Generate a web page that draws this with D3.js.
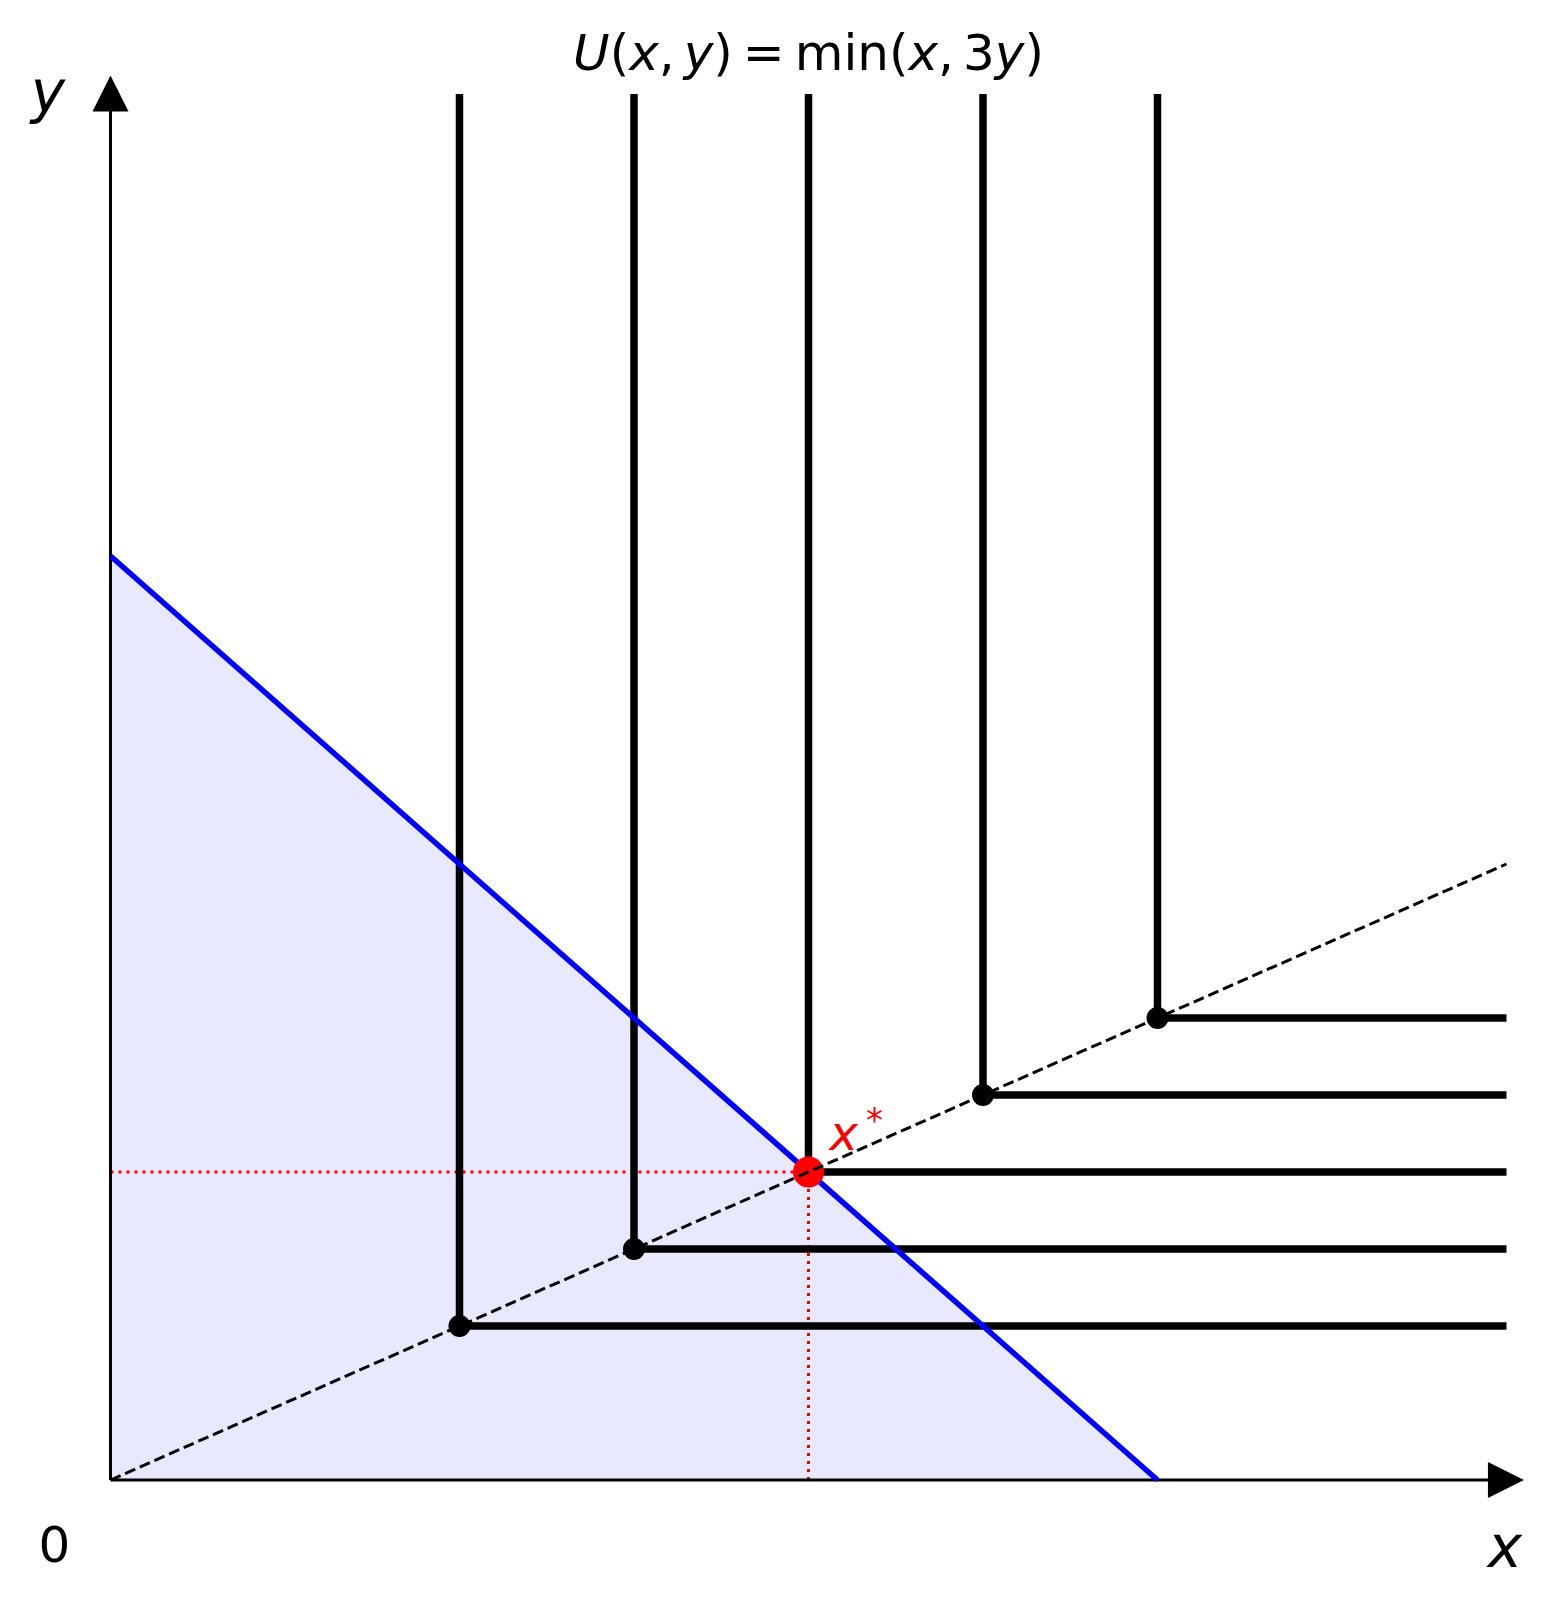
<!DOCTYPE html>
<html>
<head>
<meta charset="utf-8">
<script src="https://cdn.jsdelivr.net/npm/d3@7"></script>
<style>
  body { margin: 0; background: #fff; }
  text { font-family: "DejaVu Sans", sans-serif; }
</style>
</head>
<body>
<div id="chart-area"></div>
<script>
// indifference curve kinks, on the ray y = x/3
var kinkX = [2, 3, 4, 5, 6];
var kinkY = [2/3, 1, 4/3, 5/3, 2];
// where the L-shaped curves stop
var curveXEnd = 8;
var curveYEnd = 6;
// budget line x + 1.5y = 6
var budgetX = [0, 6];
var budgetY = [4, 0];
// ray through kinks
var rayX = [0, 8];
var rayY = [0, 8/3];
// optimum
var optX = 4;
var optY = 4/3;
// axis arrow ends
var axisXEnd = 8.1;
var axisYEnd = 6.08;

var width = 1554;
var height = 1609;

var svg = d3.select("#chart-area").append("svg")
    .attr("width", width)
    .attr("height", height);

svg.append("rect").attr("width", width).attr("height", height).attr("fill", "white");

var x = d3.scaleLinear().domain([0, 8]).range([110.5, 110.5 + 8 * 174.5]);
var y = d3.scaleLinear().domain([0, 6]).range([1480, 1480 - 6 * 231]);

var line = d3.line().x(d => x(d[0])).y(d => y(d[1]));

// budget set fill
var budgetPts = budgetX.map((d, i) => [d, budgetY[i]]);
svg.append("path")
    .attr("d", line([[0, 0]].concat(budgetPts)) + "Z")
    .attr("fill", "rgb(232,232,255)");

// red dotted guides
svg.append("path")
    .attr("d", line([[0, optY], [optX, optY]]))
    .attr("stroke", "red").attr("stroke-width", 3)
    .attr("stroke-dasharray", "3,5").attr("fill", "none");
svg.append("path")
    .attr("d", line([[optX, 0], [optX, optY]]))
    .attr("stroke", "red").attr("stroke-width", 3)
    .attr("stroke-dasharray", "3,5").attr("fill", "none");

// axes
svg.append("line")
    .attr("x1", x(0)).attr("y1", y(0)).attr("x2", x(axisXEnd) - 30).attr("y2", y(0))
    .attr("stroke", "black").attr("stroke-width", 3);
svg.append("line")
    .attr("x1", x(0)).attr("y1", y(0)).attr("x2", x(0)).attr("y2", y(axisYEnd) + 30)
    .attr("stroke", "black").attr("stroke-width", 3);
svg.append("path")
    .attr("d", "M" + x(axisXEnd) + "," + y(0) + " l-36,-18 l0,36 Z")
    .attr("fill", "black");
svg.append("path")
    .attr("d", "M" + x(0) + "," + y(axisYEnd) + " l-18,36 l36,0 Z")
    .attr("fill", "black");

// L-shaped indifference curves
var curves = svg.selectAll(".curve")
    .data(kinkX.map((d, i) => [d, kinkY[i]]))
    .enter();

curves.append("path")
    .attr("class", "curve")
    .attr("d", d => line([[d[0], curveYEnd], d, [curveXEnd, d[1]]]))
    .attr("stroke", "black").attr("stroke-width", 7.5)
    .attr("fill", "none");

curves.append("circle")
    .attr("cx", d => x(d[0]))
    .attr("cy", d => y(d[1]))
    .attr("r", 11)
    .attr("fill", "black");

// budget line
svg.append("path")
    .attr("d", line(budgetPts))
    .attr("stroke", "blue").attr("stroke-width", 5.5)
    .attr("fill", "none");

// optimum
svg.append("circle")
    .attr("cx", x(optX)).attr("cy", y(optY)).attr("r", 15.5)
    .attr("fill", "red");

// ray
svg.append("path")
    .attr("d", line(rayX.map((d, i) => [d, rayY[i]])))
    .attr("stroke", "black").attr("stroke-width", 3)
    .attr("stroke-dasharray", "11,5").attr("fill", "none");

// x* label
var lab = svg.append("text")
    .attr("x", x(optX) + 21).attr("y", y(optY) - 22)
    .attr("font-size", "48px").attr("fill", "red");
lab.append("tspan").attr("font-style", "italic").text("x");
lab.append("tspan").attr("font-size", "34px").attr("dx", 8).attr("dy", -18).text("*");

// axis labels
svg.append("text")
    .attr("x", 48).attr("y", 112)
    .attr("font-size", "58px").attr("font-style", "italic")
    .attr("text-anchor", "middle")
    .text("y");
svg.append("text")
    .attr("x", 1505).attr("y", 1567)
    .attr("font-size", "58px").attr("font-style", "italic")
    .attr("text-anchor", "middle")
    .text("x");
svg.append("text")
    .attr("x", 54.5).attr("y", 1562)
    .attr("font-size", "50px")
    .attr("text-anchor", "middle")
    .text("0");

// title, mathtext-like spacing
var title = svg.append("text")
    .attr("x", x(optX)).attr("y", 70)
    .attr("font-size", "50px")
    .attr("text-anchor", "middle");
var parts = [["U", true, 0], ["(", false, 0], ["x", true, 0], [",", false, 0], ["y", true, 9],
             [")", false, 0], ["=", false, 10], ["min(", false, 10], ["x", true, 0],
             [",", false, 0], ["3", false, 9], ["y", true, 0], [")", false, 0]];
parts.forEach(p => {
    title.append("tspan")
        .attr("font-style", p[1] ? "italic" : "normal")
        .attr("dx", p[2])
        .text(p[0]);
});
</script>
</body>
</html>
